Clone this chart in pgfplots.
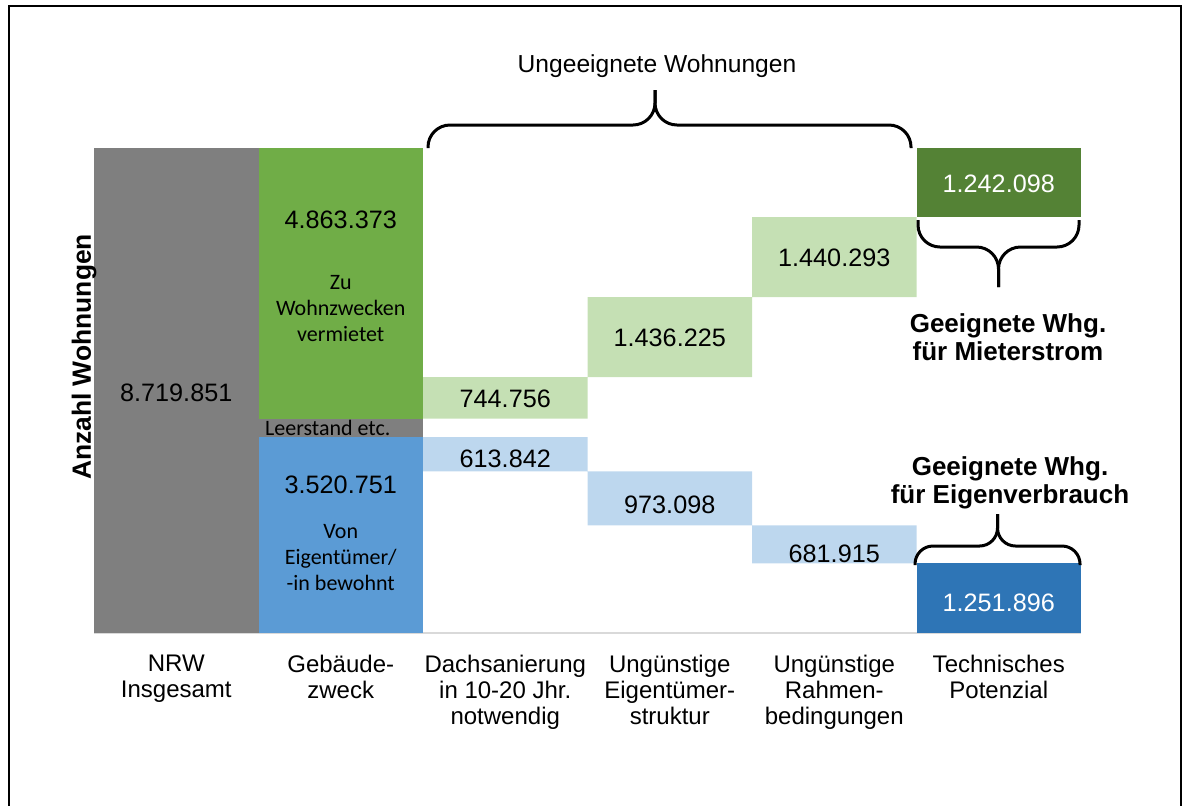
\documentclass[border=0pt]{standalone}
\usepackage{pgfplots}
\pgfplotsset{compat=1.18}
\usepackage{fontspec}
\setmainfont{Liberation Sans}
\newfontfamily\califont{Carlito}
\definecolor{cgray}{HTML}{7F7F7F}
\definecolor{cblue}{HTML}{5B9BD5}
\definecolor{cdblue}{HTML}{2E75B6}
\definecolor{clblue}{HTML}{BDD7EE}
\definecolor{cgreen}{HTML}{70AD47}
\definecolor{clgreen}{HTML}{C5E0B4}
\definecolor{cdgreen}{HTML}{548235}
\tikzset{vlab/.style={font=\fontsize{12.6}{14}\selectfont},
  slab/.style={font=\califont\fontsize{11}{13}\selectfont, align=center}}
\begin{document}
\begin{tikzpicture}
\useasboundingbox (0,0) rectangle (593pt,-402.5pt);
\begin{axis}[
  at={(47pt,-316.5pt)}, anchor=south west,
  scale only axis, width=493.5pt, height=242.5pt,
  xmin=-0.5, xmax=5.5, ymin=0, ymax=8719851,
  ybar stacked, bar width=1,
  axis y line=none, axis x line*=bottom,
  x axis line style={draw=black!15, line width=1pt, -},
  xtick={0,1,2,3,4,5}, major tick length=0pt,
  xticklabels={{NRW\\Insgesamt},{Gebäude-\\zweck},{Dachsanierung\\in 10-20 Jhr.\\notwendig},{Ungünstige\\Eigentümer-\\struktur},{Ungünstige\\Rahmen-\\bedingungen},{Technisches\\Potenzial}},
  xticklabel style={align=center, font=\fontsize{12}{13}\selectfont, yshift=-7.5pt},
  clip=false,
]
\addplot[draw=none, fill=none] coordinates {(0,0) (1,0) (2,2906909) (3,1933811) (4,1251896) (5,0)};
\addplot[draw=none, fill=cgray] coordinates {(0,8719851) (1,0) (2,0) (3,0) (4,0) (5,0)};
\addplot[draw=none, fill=cblue] coordinates {(0,0) (1,3520751) (2,0) (3,0) (4,0) (5,0)};
\addplot[draw=none, fill=cdblue] coordinates {(0,0) (1,0) (2,0) (3,0) (4,0) (5,1251896)};
\addplot[draw=none, fill=clblue] coordinates {(0,0) (1,0) (2,613842) (3,973098) (4,681915) (5,0)};
\addplot[draw=none, fill=cgray] coordinates {(0,0) (1,335727) (2,0) (3,0) (4,0) (5,0)};
\addplot[draw=none, fill=none] coordinates {(0,0) (1,0) (2,335727) (3,1694325) (4,4103648) (5,6225856)};
\addplot[draw=none, fill=cgreen] coordinates {(0,0) (1,4863373) (2,0) (3,0) (4,0) (5,0)};
\addplot[draw=none, fill=clgreen] coordinates {(0,0) (1,0) (2,744756) (3,1436225) (4,1440293) (5,0)};
\addplot[draw=none, fill=cdgreen] coordinates {(0,0) (1,0) (2,0) (3,0) (4,0) (5,1242098)};

\coordinate (L0) at (axis cs:0,4320000);
\coordinate (L1a) at (axis cs:1,7425000);
\coordinate (L1b) at (axis cs:1,2670000);
\coordinate (L2a) at (axis cs:2,4210000);
\coordinate (L2b) at (axis cs:2,3140000);
\coordinate (L3a) at (axis cs:3,5300000);
\coordinate (L3b) at (axis cs:3,2300000);
\coordinate (L4a) at (axis cs:4,6740000);
\coordinate (L4b) at (axis cs:4,1420000);
\coordinate (L5a) at (axis cs:5,8080000);
\coordinate (L5b) at (axis cs:5,550000);
\coordinate (S1) at (axis cs:1,5840000);
\coordinate (S2) at (axis cs:1,1350000);
\coordinate (S3) at (axis cs:1,3688600);
\end{axis}

\node[vlab] at (L0) {8.719.851};
\node[vlab] at (L1a) {4.863.373};
\node[vlab] at (L1b) {3.520.751};
\node[vlab] at (L2a) {744.756};
\node[vlab] at (L2b) {613.842};
\node[vlab] at (L3a) {1.436.225};
\node[vlab] at (L3b) {973.098};
\node[vlab] at (L4a) {1.440.293};
\node[vlab] at (L4b) {681.915};
\node[vlab, text=white] at (L5a) {1.242.098};
\node[vlab, text=white] at (L5b) {1.251.896};
\node[slab] at (S1) {Zu\\Wohnzwecken\\vermietet};
\node[slab] at (S2) {Von\\Eigentümer/\\-in bewohnt};
\node[slab, xshift=-6.5pt] at (S3) {Leerstand etc.};

\begin{scope}[x=0.5pt, y=-0.5pt]
\draw[line width=1pt] (9,830) -- (9,6) -- (1181,6) -- (1181,830);
\node[rotate=90, font=\bfseries\fontsize{13.2}{15}\selectfont] at (84,357) {Anzahl Wohnungen};
\node[font=\fontsize{12.3}{14}\selectfont] at (657,66) {Ungeeignete Wohnungen};
\draw[line width=1.5pt, rounded corners=11pt] (428,148) -- (428,125) -- (655,125) -- (655,90);
\draw[line width=1.5pt, rounded corners=11pt] (911,148) -- (911,125) -- (655,125) -- (655,90);
\draw[line width=1.5pt, rounded corners=11pt] (918,220) -- (918,247) -- (998.5,247) -- (998.5,287);
\draw[line width=1.5pt, rounded corners=11pt] (1079,220) -- (1079,247) -- (998.5,247) -- (998.5,287);
\node[font=\bfseries\fontsize{13}{14}\selectfont, align=center] at (1008,337) {Geeignete Whg.\\für Mieterstrom};
\draw[line width=1.5pt, rounded corners=9pt] (915,565) -- (915,546) -- (997.5,546) -- (997.5,514);
\draw[line width=1.5pt, rounded corners=9pt] (1080,565) -- (1080,546) -- (997.5,546) -- (997.5,514);
\node[font=\bfseries\fontsize{13}{14}\selectfont, align=center] at (1010,483) {Geeignete Whg.\\für Eigenverbrauch};
\end{scope}
\end{tikzpicture}
\end{document}
